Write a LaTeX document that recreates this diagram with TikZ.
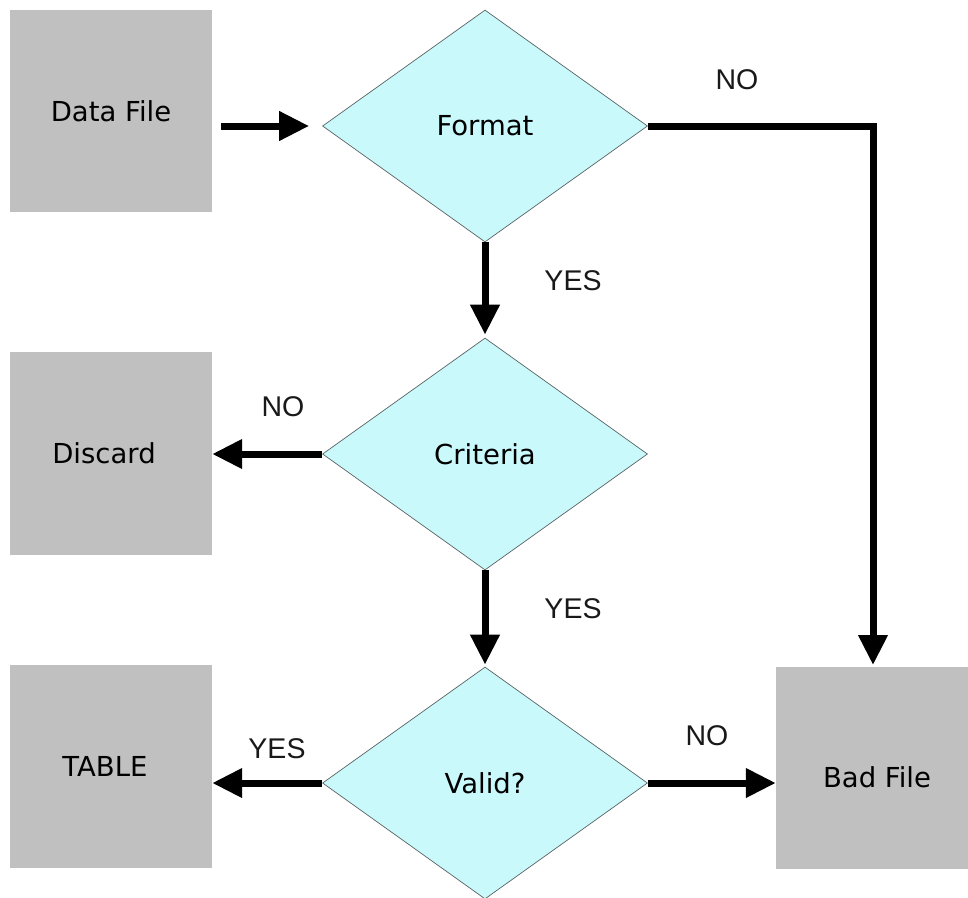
\documentclass[tikz,border=0pt]{standalone}
\usepackage{fontspec}
\setmainfont{DejaVu Sans}
\newfontfamily\labelfont{Liberation Sans}
\usetikzlibrary{shapes.geometric,arrows.meta}
\definecolor{boxgray}{RGB}{192,192,192}
\definecolor{diafill}{RGB}{202,249,252}
\definecolor{diaedge}{RGB}{90,100,100}
\tikzset{
  procbox/.style={rectangle, fill=boxgray, draw=none, minimum width=202pt, minimum height=202pt, inner sep=0pt, font=\fontsize{27.5}{30}\selectfont, text=black},
  decision/.style={diamond, fill=diafill, draw=diaedge, line width=0.7pt, minimum width=325pt, minimum height=232pt, inner sep=0pt, aspect=1.4, font=\fontsize{27.5}{30}\selectfont, text=black},
  arr/.style={line width=7pt, -{Triangle[length=30pt,width=28pt]}},
  lbl/.style={font=\labelfont\fontsize{28.5}{30}\selectfont, text=black!90, inner sep=0pt}
}
\begin{document}
\begin{tikzpicture}[x=1pt,y=-1pt]
\useasboundingbox (0,0) rectangle (968,897);
\fill[white] (0,0) rectangle (968,897);
% nodes
\node[procbox] (datafile) at (111,111) {Data File};
\node[procbox, minimum height=203pt] (discard) at (111,453.5) {Discard\hspace*{14pt}};
\node[procbox, minimum height=203pt] (table) at (111,766.5) {TABLE\hspace*{12pt}};
\node[procbox, label={[font=\fontsize{27.5}{30}\selectfont, text=black, inner sep=0pt, yshift=-9pt]center:Bad File}] (badfile) at (877,768) {};
\node[decision] (format) at (485,126) {Format};
\node[decision] (criteria) at (485,454) {Criteria};
\node[decision] (valid) at (485,783) {Valid?};
\coordinate (bfin) at (873,667);
% connectors
\draw[arr, shorten <=9pt, shorten >=13pt] (datafile.east |- format.west) -- (format.west);
\draw[arr, shorten >=3pt] (format.south) -- (criteria.north);
\draw[arr, shorten >=2pt] (format.east) -| (bfin);
\draw[arr] (criteria.west) -- (discard.east |- criteria.west);
\draw[arr, shorten >=2pt] (criteria.south) -- (valid.north);
\draw[arr] (valid.west) -- (table.east |- valid.west);
\draw[arr] (valid.east) -- (badfile.west |- valid.east);
% labels
\node[lbl] (l1) at (737,80) {NO};
\node[lbl] (l2) at (573,281) {YES};
\node[lbl] (l3) at (283,407) {NO};
\node[lbl] (l4) at (573,609) {YES};
\node[lbl] (l5) at (277,749) {YES};
\node[lbl] (l6) at (707,736) {NO};
\end{tikzpicture}
\end{document}
